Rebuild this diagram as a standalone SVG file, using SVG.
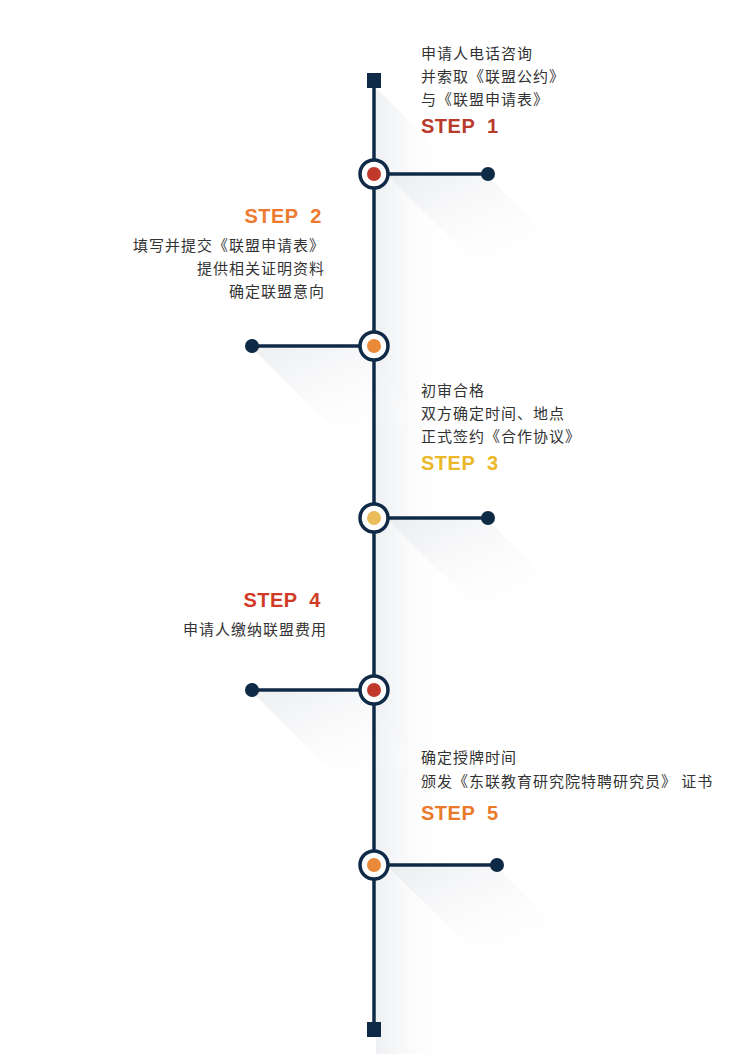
<svg xmlns="http://www.w3.org/2000/svg" width="750" height="1054" viewBox="0 0 750 1054">
<defs>
<linearGradient id="vsh" x1="0" y1="0" x2="1" y2="0">
<stop offset="0" stop-color="#eceef1" stop-opacity="0.9"/>
<stop offset="1" stop-color="#ffffff" stop-opacity="0"/>
</linearGradient>
<linearGradient id="dsh" x1="0" y1="0" x2="1" y2="1">
<stop offset="0" stop-color="#e9ebee" stop-opacity="0.85"/>
<stop offset="1" stop-color="#ffffff" stop-opacity="0"/>
</linearGradient>
<style>
.line{stroke:#0e2a47;stroke-width:3.5;fill:none}
.end{fill:#0e2a47}
.ring{fill:#fff;stroke:#0e2a47;stroke-width:3.5}
.txt{font-family:"Noto Sans CJK SC","Noto Sans",sans-serif;font-size:15px;fill:#333;letter-spacing:1px;white-space:pre}
.step{font-family:"Liberation Sans",Arial,sans-serif;font-weight:bold;font-size:20px;letter-spacing:0.5px;white-space:pre}
.r{text-anchor:end}
</style>
</defs>
<rect width="750" height="1054" fill="#fff"/>
<g id="shadows">
<polygon points="376,88 450,160 450,1054 376,1054" fill="url(#vsh)"/>
<polygon points="388,176 488,176 570,258 470,258" fill="url(#dsh)"/>
<polygon points="252,348 360,348 438,426 330,426" fill="url(#dsh)"/>
<polygon points="388,520 488,520 570,602 470,602" fill="url(#dsh)"/>
<polygon points="252,692 360,692 438,770 330,770" fill="url(#dsh)"/>
<polygon points="388,867 497,867 578,948 470,948" fill="url(#dsh)"/>
</g>
<g id="connectors">
<line class="line" x1="374" y1="80" x2="374" y2="1030"/>
<line class="line" x1="374" y1="174" x2="488" y2="174"/>
<line class="line" x1="252" y1="346" x2="374" y2="346"/>
<line class="line" x1="374" y1="518" x2="488" y2="518"/>
<line class="line" x1="252" y1="690" x2="374" y2="690"/>
<line class="line" x1="374" y1="865" x2="497" y2="865"/>
</g>
<g id="start"><rect class="end" x="367" y="73" width="14" height="15"/></g>
<g id="finish"><rect class="end" x="367" y="1022" width="14" height="15"/></g>
<g id="step1">
<circle class="ring" cx="374" cy="174" r="14"/>
<circle cx="374" cy="174" r="7" fill="#c0392b"/>
<circle class="end" cx="488" cy="174" r="7"/>
<text class="txt" x="421" y="59">申请人电话咨询</text>
<text class="txt" x="421" y="82">并索取《联盟公约》</text>
<text class="txt" x="421" y="105">与《联盟申请表》</text>
<text class="step" x="421" y="133" fill="#b73a2b">STEP  1</text>
</g>
<g id="step2">
<circle class="ring" cx="374" cy="346" r="14"/>
<circle cx="374" cy="346" r="7" fill="#ea8a38"/>
<circle class="end" cx="252" cy="346" r="7"/>
<text class="step r" x="322" y="223" fill="#ee7a2f">STEP  2</text>
<text class="txt r" x="325" y="251">填写并提交《联盟申请表》</text>
<text class="txt r" x="325" y="274">提供相关证明资料</text>
<text class="txt r" x="325" y="297">确定联盟意向</text>
</g>
<g id="step3">
<circle class="ring" cx="374" cy="518" r="14"/>
<circle cx="374" cy="518" r="7" fill="#ebbd5a"/>
<circle class="end" cx="488" cy="518" r="7"/>
<text class="txt" x="421" y="396">初审合格</text>
<text class="txt" x="421" y="419">双方确定时间、地点</text>
<text class="txt" x="421" y="442">正式签约《合作协议》</text>
<text class="step" x="421" y="470" fill="#ebb828">STEP  3</text>
</g>
<g id="step4">
<circle class="ring" cx="374" cy="690" r="14"/>
<circle cx="374" cy="690" r="7" fill="#c0392b"/>
<circle class="end" cx="252" cy="690" r="7"/>
<text class="step r" x="321" y="607" fill="#d13a24">STEP  4</text>
<text class="txt r" x="327" y="635">申请人缴纳联盟费用</text>
</g>
<g id="step5">
<circle class="ring" cx="374" cy="865" r="14"/>
<circle cx="374" cy="865" r="7" fill="#ea8a38"/>
<circle class="end" cx="497" cy="865" r="7"/>
<text class="txt" x="421" y="763">确定授牌时间</text>
<text class="txt" x="421" y="787">颁发《东联教育研究院特聘研究员》 证书</text>
<text class="step" x="421" y="820" fill="#ea7a2a">STEP  5</text>
</g>
</svg>
